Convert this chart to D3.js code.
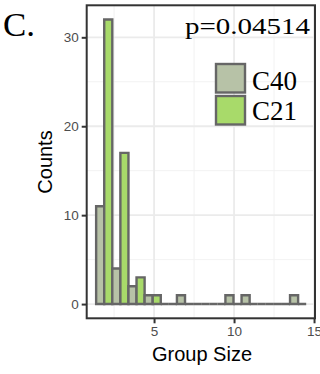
<!DOCTYPE html>
<html><head><meta charset="utf-8">
<script src="https://cdn.jsdelivr.net/npm/d3@7"></script>
<style>html,body{margin:0;padding:0;background:#fff;}svg{display:block;}</style>
</head><body>
<svg id="chart" width="320" height="374"></svg>
<script>
// Data
const binStarts = [1.38, 2.39, 3.40, 4.41, 5.42, 6.43, 7.44, 8.45, 9.46, 10.47, 11.48, 12.49, 13.50];
const binWidth = 1.01;
const seriesNames = ["C40", "C21"];
const countsC40 = [11, 4, 2, 1, 0, 1, 0, 0, 1, 1, 0, 0, 1];
const countsC21 = [32, 17, 3, 1, 0, 0, 0, 0, 0, 0, 0, 0, 0];
const xTicks = [5, 10, 15];
const yTicks = [0, 10, 20, 30];
const xMinor = [2.5, 7.5, 12.5];
const yMinor = [5, 15, 25];
const colors = {C40: "#b7c2a7", C21: "#a8da6a"};

const svg = d3.select("#chart");
const P = {l: 86.7, r: 315, t: 5.3, b: 318.3};
const x = d3.scaleLinear().domain([0.79, 15.06]).range([P.l, P.r]);
const y = d3.scaleLinear().domain([-1.6, 33.6]).range([P.b, P.t]);

// grid
const g = svg.append("g");
g.selectAll(".xmin").data(xMinor).join("line")
  .attr("x1", d => x(d)).attr("x2", d => x(d)).attr("y1", P.t).attr("y2", P.b)
  .attr("stroke", "#f0f0f0").attr("stroke-width", 0.9);
g.selectAll(".ymin").data(yMinor).join("line")
  .attr("y1", d => y(d)).attr("y2", d => y(d)).attr("x1", P.l).attr("x2", P.r)
  .attr("stroke", "#f0f0f0").attr("stroke-width", 0.9);
g.selectAll(".xmaj").data(xTicks).join("line")
  .attr("x1", d => x(d)).attr("x2", d => x(d)).attr("y1", P.t).attr("y2", P.b)
  .attr("stroke", "#ebebeb").attr("stroke-width", 1.8);
g.selectAll(".ymaj").data(yTicks).join("line")
  .attr("y1", d => y(d)).attr("y2", d => y(d)).attr("x1", P.l).attr("x2", P.r)
  .attr("stroke", "#ebebeb").attr("stroke-width", 1.8);

// bars (paths so that zero-height bins still draw their outline)
const barData = [];
binStarts.forEach((s, i) => {
  barData.push({x0: s, x1: s + binWidth / 2, v: countsC40[i], k: "C40"});
  barData.push({x0: s + binWidth / 2, x1: s + binWidth, v: countsC21[i], k: "C21"});
});
svg.append("g").selectAll("path").data(barData).join("path")
  .attr("d", d => {
    const a = x(d.x0), b = x(d.x1), top = y(d.v), base = y(0);
    return `M${a},${base}L${a},${top}L${b},${top}L${b},${base}Z`;
  })
  .attr("fill", d => colors[d.k]).attr("stroke", "#666").attr("stroke-width", 2.4)
  .attr("stroke-linejoin", "miter");

// panel border
svg.append("rect").attr("x", P.l).attr("y", P.t).attr("width", P.r - P.l).attr("height", P.b - P.t)
  .attr("fill", "none").attr("stroke", "#333").attr("stroke-width", 2);

// axes
const xAxis = svg.append("g").attr("transform", `translate(0,${P.b})`)
  .call(d3.axisBottom(x).tickValues(xTicks).tickSize(5).tickPadding(3));
const yAxis = svg.append("g").attr("transform", `translate(${P.l},0)`)
  .call(d3.axisLeft(y).tickValues(yTicks).tickSize(5).tickPadding(3));
[xAxis, yAxis].forEach(a => {
  a.select(".domain").remove();
  a.selectAll(".tick line").attr("stroke", "#333").attr("stroke-width", 2);
  a.selectAll(".tick text").attr("fill", "#4d4d4d").style("font-family", "Liberation Sans, Arial, sans-serif").style("font-size", "13.5px");
});

// axis titles
svg.append("text").attr("x", 202).attr("y", 361).attr("text-anchor", "middle")
  .style("font-family", "Liberation Sans, Arial, sans-serif").style("font-size", "20px").attr("fill", "#000")
  .text("Group Size");
svg.append("text").attr("transform", "translate(51.5,162) rotate(-90)").attr("text-anchor", "middle")
  .style("font-family", "Liberation Sans, Arial, sans-serif").style("font-size", "20px").attr("fill", "#000")
  .text("Counts");

// panel label and p-value
svg.append("text").attr("x", 3).attr("y", 36)
  .style("font-family", "Liberation Serif, Times New Roman, serif").style("font-size", "34px")
  .attr("textLength", 32).attr("lengthAdjust", "spacingAndGlyphs").text("C.");
svg.append("text").attr("x", 185).attr("y", 33.5)
  .style("font-family", "Liberation Serif, Times New Roman, serif").style("font-size", "24px")
  .attr("textLength", 125).attr("lengthAdjust", "spacingAndGlyphs").text("p=0.04514");

// legend
const leg = svg.append("g");
seriesNames.forEach((k, i) => {
  const ky = 64 + i * 32;
  leg.append("rect").attr("x", 216).attr("y", ky).attr("width", 29).attr("height", 28.5)
    .attr("fill", colors[k]).attr("stroke", "#666").attr("stroke-width", 2.4);
  leg.append("text").attr("x", 252).attr("y", 90 + i * 29.5)
    .style("font-family", "Liberation Serif, Times New Roman, serif").style("font-size", "28px")
    .attr("textLength", 45).attr("lengthAdjust", "spacingAndGlyphs").text(k);
});
</script>
</body></html>
